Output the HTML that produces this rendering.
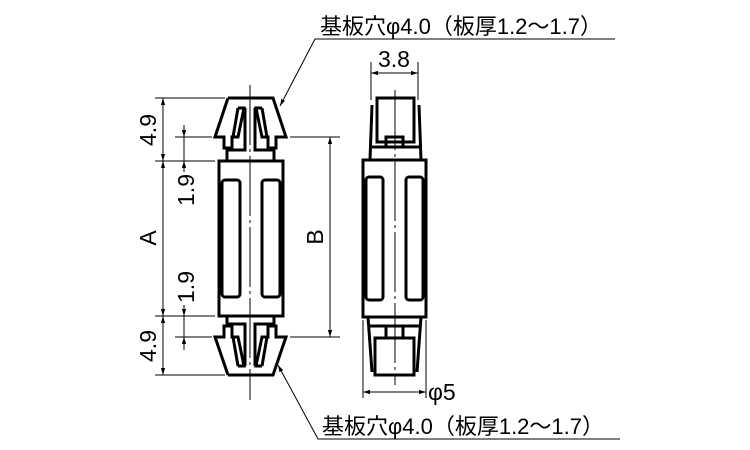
<!DOCTYPE html>
<html><head><meta charset="utf-8"><style>html,body{margin:0;padding:0;background:#fff}svg{display:block}</style></head>
<body>
<svg width="750" height="450" viewBox="0 0 750 450" xmlns="http://www.w3.org/2000/svg" font-family="Liberation Sans, Noto Sans CJK JP, sans-serif">
<defs>
<marker id="a" viewBox="0 0 10 10" refX="10" refY="5" markerWidth="7" markerHeight="7" orient="auto-start-reverse"><path d="M0,2 L10,5 L0,8z" fill="#000"/></marker>
</defs>
<g fill="none" stroke="#000">
<g stroke-width="3" stroke-linejoin="miter">
<path d="M228,98 L273,98 L286,137 L276,137 L276,148 L268,148 L268,137 L262,137 L256,108 L262,108 M228,98 L215,137 L224,137 L224,148 L232,148 L232,137 L238,137 L244,108 L238,108"/>
<path d="M238,108 L233,137 M262,108 L267,137"/>
<path d="M245,108 L245,150 L227,150 L227,161 M255,108 L255,150 L274,150 L274,161"/>
<rect x="219" y="161" width="64" height="155"/>
<rect x="222" y="180" width="18" height="117" rx="3"/>
<rect x="262" y="180" width="18" height="117" rx="3"/>
<path d="M228,375 L273,375 L286,337 L276,337 L276,326 L268,326 L268,337 L262,337 L256,366 L262,366 M228,375 L215,337 L224,337 L224,326 L232,326 L232,337 L238,337 L244,366 L238,366"/>
<path d="M238,366 L233,337 M262,366 L267,337"/>
<path d="M245,366 L245,324 L227,324 L227,316 M255,366 L255,324 L274,324 L274,316"/>
</g>
<g stroke-width="3">
<rect x="363" y="160" width="63" height="157"/>
<rect x="366" y="177" width="17" height="123" rx="3"/>
<rect x="406" y="177" width="17" height="123" rx="3"/>
<rect x="377" y="98" width="37" height="44"/>
<rect x="386" y="137" width="17" height="10"/>
<path d="M372,105 L370,160 M419,105 L421,160 M370,147 L421,147"/>
<rect x="375" y="338" width="39" height="37"/>
<rect x="386" y="326" width="17" height="12"/>
<path d="M368,317 L372,372 M421,317 L417,372 M368,326 L421,326"/>
</g>
<g stroke-width="1">
<path d="M250,85 L250,400" stroke-dasharray="60,4,3,4"/>
<path d="M395,90 L395,385" stroke-dasharray="60,4,3,4"/>
<path d="M155,98 L225,98 M155,161 L215,161 M155,316 L215,316 M155,375 L225,375"/>
<path d="M175,137 L212,137 M175,337 L212,337 M290,137 L340,137 M290,337 L340,337"/>
<path d="M371,62 L371,100 M418,62 L418,100 M363,320 L363,398 M426,320 L426,398"/>
<path d="M163,98 L163,161" marker-start="url(#a)" marker-end="url(#a)"/>
<path d="M163,161 L163,316" marker-start="url(#a)" marker-end="url(#a)"/>
<path d="M163,316 L163,375" marker-start="url(#a)" marker-end="url(#a)"/>
<path d="M184,125 L184,137" marker-end="url(#a)"/>
<path d="M184,172 L184,161" marker-end="url(#a)"/>
<path d="M184,305 L184,316" marker-end="url(#a)"/>
<path d="M184,350 L184,337" marker-end="url(#a)"/>
<path d="M184,137 L184,161 M184,316 L184,337"/>
<path d="M330,137 L330,337" marker-start="url(#a)" marker-end="url(#a)"/>
<path d="M371,73 L418,73" marker-start="url(#a)" marker-end="url(#a)"/>
<path d="M363,392 L426,392" marker-start="url(#a)" marker-end="url(#a)"/>
<path d="M615,39 L315,39 L280,106" marker-end="url(#a)"/>
<path d="M620,439 L318,439 L278,365" marker-end="url(#a)"/>
</g>
</g>
<g font-size="23" fill="#000">
<text x="320" y="34" font-size="22" textLength="282" lengthAdjust="spacingAndGlyphs">基板穴φ4.0（板厚1.2〜1.7）</text>
<text x="322" y="434" font-size="22" textLength="282" lengthAdjust="spacingAndGlyphs">基板穴φ4.0（板厚1.2〜1.7）</text>
<text x="378" y="67">3.8</text>
<text x="428" y="400">φ5</text>
<text transform="translate(156,130) rotate(-90)" text-anchor="middle">4.9</text>
<text transform="translate(156,346) rotate(-90)" text-anchor="middle">4.9</text>
<text transform="translate(156,238) rotate(-90)" text-anchor="middle">A</text>
<text transform="translate(194,190) rotate(-90)" text-anchor="middle">1.9</text>
<text transform="translate(194,287) rotate(-90)" text-anchor="middle">1.9</text>
<text transform="translate(323,237) rotate(-90)" text-anchor="middle">B</text>
</g>
</svg>
</body></html>
